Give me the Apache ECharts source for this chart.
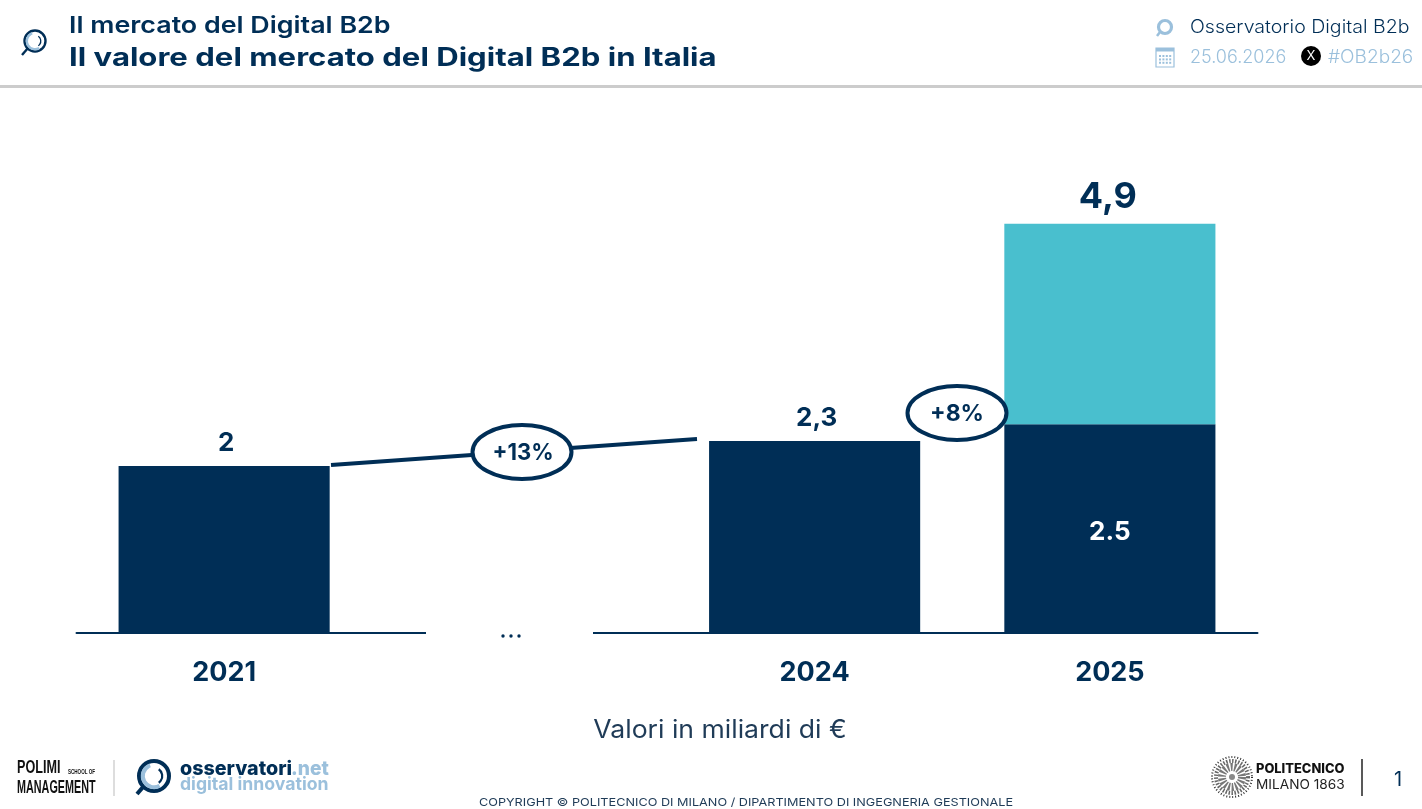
<!DOCTYPE html>
<html>
<head>
<meta charset="utf-8">
<style>html,body{margin:0;padding:0;background:#fff}#c{width:1422px;height:809px}</style>
<script src="https://cdn.jsdelivr.net/npm/echarts@6/dist/echarts.min.js"></script>
</head>
<body>
<div id="c"></div>
<script>
const categories = ['2021', '', '2024', '2025'];
const baseValues = [2, null, 2.3, 2.5];
const baseLabels = ['2', '', '2,3', '2.5'];
const extraValues = [null, null, null, 2.4];
const totalLabels = ['', '', '', '4,9'];
const growthLabels = ['+13%', '+8%'];

const NAVY = '#002e56', LIGHT = '#9bc0dc', TEAL = '#49bfce';
const FONT = 'Inter, "Noto Sans", sans-serif';
const NARROW = '"Liberation Sans Narrow", "Liberation Sans"';

function txt(x, y, text, size, weight, color, align, sx, family) {
  return { type: 'text', x: x, y: y, scaleX: sx || 1, z: 20,
    style: { text: text, fontSize: size, fontWeight: weight, fill: color,
      fontFamily: family || FONT, align: align || 'left', verticalAlign: 'middle' } };
}
function circle(cx, cy, r, stroke, lw, fill) {
  return { type: 'circle', z: 15, shape: { cx: cx, cy: cy, r: r },
    style: { fill: fill || 'none', stroke: stroke, lineWidth: lw } };
}
function arc(cx, cy, r, a, b, stroke, lw) {
  return { type: 'arc', z: 16, shape: { cx: cx, cy: cy, r: r, startAngle: a * Math.PI / 180, endAngle: b * Math.PI / 180 },
    style: { fill: 'none', stroke: stroke, lineWidth: lw } };
}
function line(x1, y1, x2, y2, stroke, lw, z) {
  return { type: 'line', z: z || 15, shape: { x1: x1, y1: y1, x2: x2, y2: y2 },
    style: { stroke: stroke, lineWidth: lw } };
}
function rect(x, y, w, h, fill, z) {
  return { type: 'rect', z: z || 15, shape: { x: x, y: y, width: w, height: h }, style: { fill: fill } };
}
function lens(cx, cy, r, ringColor, innerColor, lw, hx, hy) {
  const k = Math.SQRT1_2;
  return [
    circle(cx, cy, r, ringColor, lw),
    arc(cx, cy, r - lw * 0.95, 60, 250, innerColor, lw),
    arc(cx, cy, r * 0.55, -55, 55, ringColor, lw * 0.55),
    line(cx - r * k, cy + r * k, hx, hy, ringColor, lw)
  ];
}
function calendar(x, y, w, h) {
  const parts = [
    { type: 'rect', z: 16, shape: { x: x, y: y, width: w, height: h }, style: { fill: '#fff', stroke: LIGHT, lineWidth: 1.2 } },
    rect(x, y, w, 3.5, LIGHT, 17)
  ];
  for (let r = 0; r < 3; r++) {
    for (let c = 0; c < 4; c++) {
      parts.push(rect(x + 3 + c * 3.4, y + 7 + r * 3.4, 2, 2, LIGHT, 17));
    }
  }
  return parts;
}

const graphics = [
  // header
  rect(0, 85, 1422, 3, '#cccccc'),
  ...lens(35, 41, 10.5, NAVY, LIGHT, 2.4, 22, 55),
  txt(69, 26, 'Il mercato del Digital B2b', 23, 600, NAVY, 'left', 1.167),
  txt(69, 58, 'Il valore del mercato del Digital B2b in Italia', 25.5, 700, NAVY, 'left', 1.22),
  circle(1165, 27, 6.5, LIGHT, 3.2),
  line(1160, 32, 1157, 36, LIGHT, 2.5),
  txt(1190, 28, 'Osservatorio Digital B2b', 18, 300, NAVY, 'left', 1.086),
  ...calendar(1156, 48, 18, 19),
  txt(1190, 58, '25.06.2026', 18, 300, LIGHT),
  { type: 'circle', z: 15, shape: { cx: 1311, cy: 56, r: 10 }, style: { fill: '#000' } },
  txt(1311, 56, 'X', 13, 400, '#fff', 'center'),
  txt(1328, 58, '#OB2b26', 18, 300, LIGHT, 'left', 1.06),

  // axis break
  rect(426, 628, 167, 10, '#fff', 12),
  { type: 'circle', z: 15, shape: { cx: 503, cy: 636, r: 1.7 }, style: { fill: NAVY } },
  { type: 'circle', z: 15, shape: { cx: 511, cy: 636, r: 1.7 }, style: { fill: NAVY } },
  { type: 'circle', z: 15, shape: { cx: 519, cy: 636, r: 1.7 }, style: { fill: NAVY } },

  // growth callouts
  line(331, 465, 697, 439, NAVY, 4, 13),
  { type: 'ellipse', z: 14, shape: { cx: 522, cy: 452, rx: 49.5, ry: 27 }, style: { fill: '#fff', stroke: NAVY, lineWidth: 4 } },
  txt(523, 453, growthLabels[0], 23, 700, NAVY, 'center', 0.96),
  { type: 'ellipse', z: 14, shape: { cx: 957, cy: 413, rx: 49.5, ry: 27 }, style: { fill: '#fff', stroke: NAVY, lineWidth: 4 } },
  txt(957, 414, growthLabels[1], 23, 700, NAVY, 'center'),

  txt(720, 730, 'Valori in miliardi di €', 25, 400, '#1f3b57', 'center', 1.063),

  // footer left
  txt(17, 768, 'POLIMI', 18, 700, '#111', 'left', 0.7, NARROW),
  txt(68, 772, 'SCHOOL OF', 7, 700, '#111', 'left', 0.65, NARROW),
  txt(17, 788, 'MANAGEMENT', 18, 700, '#111', 'left', 0.6, NARROW),
  line(114, 760, 114, 796, '#bbbbbb', 1),
  ...lens(154, 776, 15, NAVY, LIGHT, 4, 137, 794),
  txt(180, 769, 'osservatori', 20, 800, NAVY, 'left', 0.985),
  txt(291, 769, '.net', 20, 800, LIGHT, 'left', 0.96),
  txt(180, 785, 'digital innovation', 18, 700, LIGHT, 'left', 0.98),

  // footer centre
  txt(746, 803, 'COPYRIGHT © POLITECNICO DI MILANO / DIPARTIMENTO DI INGEGNERIA GESTIONALE', 11, 400, '#1f3b57', 'center', 1.153),

  // footer right
  { type: 'circle', z: 15, shape: { cx: 1232, cy: 777, r: 20 }, style: { fill: 'none', stroke: '#333', lineWidth: 2, lineDash: [1, 2] } },
  { type: 'circle', z: 15, shape: { cx: 1232, cy: 777, r: 16 }, style: { fill: 'none', stroke: '#666', lineWidth: 4, lineDash: [1.5, 1.5] } },
  { type: 'circle', z: 15, shape: { cx: 1232, cy: 777, r: 10 }, style: { fill: 'none', stroke: '#777', lineWidth: 8, lineDash: [2, 1.5] } },
  { type: 'circle', z: 15, shape: { cx: 1232, cy: 777, r: 3 }, style: { fill: '#888' } },
  txt(1256, 769, 'POLITECNICO', 13, 800, '#111', 'left', 0.99),
  txt(1256, 785, 'MILANO 1863', 13, 400, '#222', 'left', 1.05),
  line(1362, 759, 1362, 796, '#222', 1.5),
  txt(1394, 780, '1', 20, 400, NAVY)
];

const chart = echarts.init(document.getElementById('c'), null, { renderer: 'canvas' });
chart.setOption({
  animation: false,
  backgroundColor: '#fff',
  textStyle: { fontFamily: FONT },
  grid: { left: 76.5, right: 164.5, top: 215.5, bottom: 176 },
  xAxis: {
    type: 'category', data: categories,
    axisLine: { show: true, lineStyle: { color: NAVY, width: 2 } },
    axisTick: { show: false },
    axisLabel: { fontSize: 27, fontWeight: 700, color: NAVY, margin: 26, fontFamily: FONT }
  },
  yAxis: { type: 'value', min: 0, max: 5, show: false, splitLine: { show: false } },
  series: [
    {
      type: 'bar', stack: 'a', barWidth: '71.5%',
      data: baseValues.map((v, i) => i === 3
        ? { value: v, label: { position: 'inside', color: '#fff', fontSize: 26, distance: 0, offset: [0, 4] } }
        : v),
      itemStyle: { color: NAVY },
      label: {
        show: true, position: 'top', distance: 8, offset: [2, -2], fontSize: 26, fontWeight: 700, color: NAVY,
        fontFamily: FONT,
        formatter: p => baseLabels[p.dataIndex]
      }
    },
    {
      type: 'bar', stack: 'a', barWidth: '71.5%', data: extraValues,
      itemStyle: { color: TEAL },
      label: {
        show: true, position: 'top', distance: 8, offset: [-2, -1], fontSize: 36, fontWeight: 700, color: NAVY,
        fontFamily: FONT,
        formatter: p => totalLabels[p.dataIndex]
      }
    }
  ],
  graphic: { elements: graphics }
});
</script>
</body>
</html>
